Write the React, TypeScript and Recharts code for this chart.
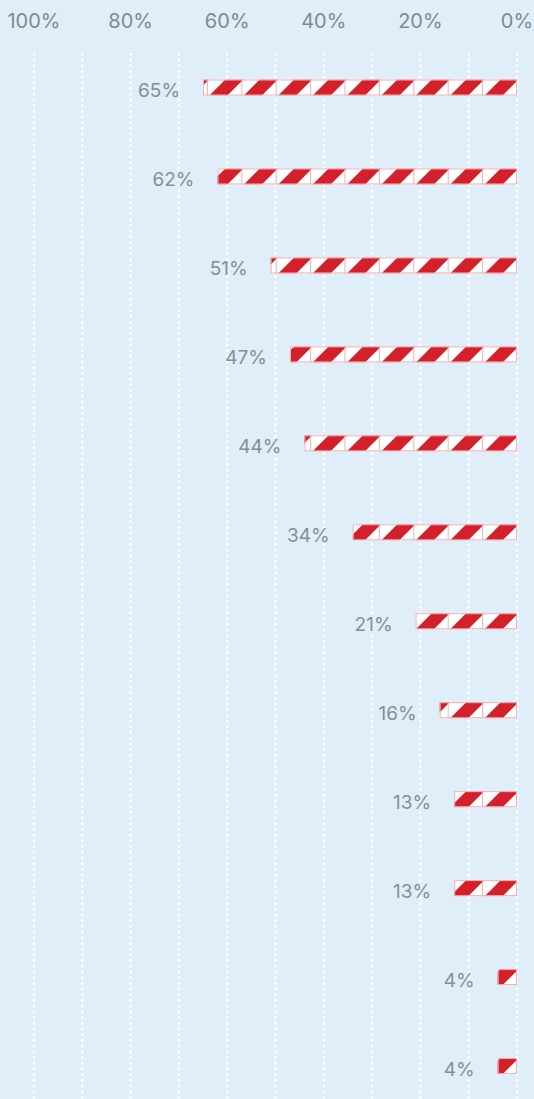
import { BarChart, Bar, XAxis, YAxis, CartesianGrid, LabelList } from "recharts";

const categories = [
  "Option 1", "Option 2", "Option 3", "Option 4", "Option 5", "Option 6",
  "Option 7", "Option 8", "Option 9", "Option 10", "Option 11", "Option 12",
];
const values = [65, 62, 51, 47, 44, 34, 21, 16, 13, 13, 4, 4];
const gridTicks = [0, 10, 20, 30, 40, 50, 60, 70, 80, 90, 100];
const labeledTicks = [0, 20, 40, 60, 80, 100];

const data = categories.map((name, i) => ({ name, value: values[i] }));

const RED = "#d3202a";
const PINK = "#f3aeb2";
const BG = "#e0eef9";
const TILE = 34.4;
const FONT = "Inter, Roboto, sans-serif";

// stripes are tiled from the zero end (right side) of each bar
const StripedBar = (props: any) => {
  const { x, y, width, height, index } = props;
  const left = Math.min(x, x + width);
  const right = Math.max(x, x + width);
  if (right - left <= 0) return null;
  const top = y;
  const bottom = y + height;
  const id = `bar-clip-${index}`;
  const stripes = [];
  const borders = [];
  for (let k = 0; right - (k + 1) * TILE > left - 40; k++) {
    const a = right - (k + 1) * TILE;
    stripes.push(
      <polygon
        key={k}
        points={`${a + 2},${bottom} ${a + 20},${bottom} ${a + 36},${top} ${a + 18},${top}`}
        fill={RED}
      />
    );
    const bx = right - k * TILE;
    if (k > 0 && bx > left) {
      borders.push(
        <line key={"b" + k} x1={bx} x2={bx} y1={top} y2={bottom} stroke={PINK} strokeWidth={1} />
      );
    }
  }
  return (
    <g>
      <defs>
        <clipPath id={id}>
          <rect x={left} y={top} width={right - left} height={height} />
        </clipPath>
      </defs>
      <rect x={left} y={top} width={right - left} height={height} fill="#fff" />
      <g clipPath={`url(#${id})`}>{stripes}</g>
      {borders}
      <rect
        x={left + 0.5}
        y={top + 0.5}
        width={right - left - 1}
        height={height - 1}
        fill="none"
        stroke={PINK}
        strokeWidth={1}
      />
    </g>
  );
};

const ValueLabel = (props: any) => {
  const { x, y, width, height, value } = props;
  const left = Math.min(x, x + width);
  return (
    <text
      x={left - 23}
      y={y + height / 2 + 3}
      textAnchor="end"
      dominantBaseline="central"
      fontSize={19}
      fontFamily={FONT}
      fill="#858f94"
    >
      {value}%
    </text>
  );
};

export default function App() {
  return (
    <div
      style={{
        position: "absolute",
        left: 0,
        top: 0,
        width: 534,
        height: 1099,
        overflow: "hidden",
        background: BG,
      }}
    >
      <BarChart
        width={534}
        height={1111}
        data={data}
        layout="vertical"
        margin={{ top: 13.5, right: 17, bottom: 0, left: 34 }}
        barSize={16}
      >
        <CartesianGrid
          horizontal={false}
          stroke="#ffffff"
          strokeDasharray="2.5 3.2"
          strokeWidth={2.5}
          y={53}
          height={1060}
        />
        <XAxis
          type="number"
          orientation="top"
          reversed
          domain={[0, 100]}
          ticks={gridTicks}
          interval={0}
          height={30}
          axisLine={false}
          tickLine={false}
          tickSize={6}
          tickMargin={9.5}
          tick={{ fill: "#7f8a8f", fontSize: 20, fontFamily: FONT }}
          tickFormatter={(v: number) => (labeledTicks.includes(v) ? `${v}%` : "")}
        />
        <YAxis type="category" dataKey="name" hide />
        <Bar dataKey="value" shape={StripedBar} isAnimationActive={false}>
          <LabelList dataKey="value" content={ValueLabel} />
        </Bar>
      </BarChart>
    </div>
  );
}
